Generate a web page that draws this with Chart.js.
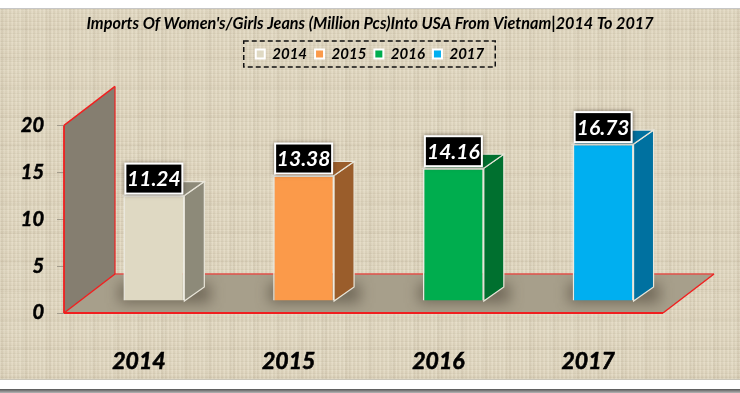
<!DOCTYPE html>
<html>
<head>
<meta charset="utf-8">
<script src="https://cdn.jsdelivr.net/npm/chart.js@4"></script>
<style>
  html, body { margin: 0; padding: 0; background: #fff; overflow: hidden; }
  #page { position: relative; width: 740px; height: 393px; }
  #topline { position: absolute; left: 0; top: 8px; width: 740px; height: 1px; background: #c6c6c6; }
  #linen {
    position: absolute; left: 0; top: 9px; width: 740px; height: 370px;
    border-bottom: 1px solid #c9c5b8;
    background-color: #ddd3bc;
    background-image:
      repeating-linear-gradient(90deg, rgba(255,250,235,.14) 0 1px, rgba(120,105,80,.05) 1px 3px, rgba(255,250,235,.04) 3px 4px),
      repeating-linear-gradient(0deg, rgba(255,250,235,.13) 0 1px, rgba(120,105,80,.05) 1px 2px, rgba(255,250,235,.03) 2px 4px),
      repeating-linear-gradient(90deg, rgba(110,95,70,.04) 0 5px, rgba(0,0,0,0) 5px 17px, rgba(255,255,240,.04) 17px 23px),
      repeating-linear-gradient(0deg, rgba(110,95,70,.04) 0 3px, rgba(0,0,0,0) 3px 13px, rgba(255,255,240,.04) 13px 29px);
  }
  #bottomline { position: absolute; left: 0; top: 389px; width: 740px; height: 4px; background: linear-gradient(#555, #b5b5b5); }
  canvas { position: absolute; left: 0; top: 0; }
</style>
</head>
<body>
<div id="page">
  <div id="topline"></div>
  <div id="linen"></div>
  <div id="bottomline"></div>
  <canvas id="chart" width="740" height="393"></canvas>
</div>
<script>
const categories = ['2014', '2015', '2016', '2017'];
const values = [11.24, 13.38, 14.16, 16.73];
const yTicks = [0, 5, 10, 15, 20];
const frontColors = ['#dfd9c3', '#fb9a4a', '#00ad4e', '#00aff0'];
const sideColors = ['#8d8a79', '#9a5d2b', '#00702f', '#0071a0'];
const titleText = "Imports Of Women's/Girls Jeans (Million Pcs)Into USA From Vietnam|2014 To 2017";

const FONT = 'Lato, "Open Sans", sans-serif';
// 3d look: walls go back by this much, bars sit part of the way in
const WALL_DX = 51, WALL_DY = -39;
const BAR_DX = 15, BAR_DY = -12;
const SIDE_DX = 20, SIDE_DY = -14;
const RED = '#f01f1f';

function poly(ctx, pts) {
  ctx.beginPath();
  pts.forEach((p, i) => (i ? ctx.lineTo(p[0], p[1]) : ctx.moveTo(p[0], p[1])));
  ctx.closePath();
}

function line(ctx, x1, y1, x2, y2, color, w) {
  ctx.strokeStyle = color;
  ctx.lineWidth = w;
  ctx.beginPath();
  ctx.moveTo(x1, y1);
  ctx.lineTo(x2, y2);
  ctx.stroke();
}

const room3d = {
  id: 'room3d',
  beforeLayout(chart) {
    // room between the legend and the plot
    const legend = chart.legend;
    if (!legend.patched) {
      legend.patched = true;
      const fit = legend.fit;
      legend.fit = function () {
        fit.call(this);
        this.height = 87;
      };
    }
  },
  beforeDatasetsDraw(chart) {
    const { ctx, chartArea: a } = chart;
    const y = chart.scales.y;
    const top = y.getPixelForValue(20), bottom = y.getPixelForValue(0);
    const floor = [[a.left, bottom], [a.right, bottom], [a.right + WALL_DX, bottom + WALL_DY], [a.left + WALL_DX, bottom + WALL_DY]];
    ctx.save();
    // wall
    ctx.fillStyle = '#857e70';
    poly(ctx, [[a.left, bottom], [a.left, top], [a.left + WALL_DX, top + WALL_DY], [a.left + WALL_DX, bottom + WALL_DY]]);
    ctx.fill();
    // floor
    ctx.fillStyle = '#a79f8b';
    poly(ctx, floor);
    ctx.fill();
    // bar shadows on the floor
    const meta = chart.getDatasetMeta(0);
    ctx.save();
    poly(ctx, floor);
    ctx.clip();
    ctx.filter = 'blur(7px)';
    ctx.fillStyle = 'rgba(50,42,32,.45)';
    meta.data.forEach((bar) => {
      ctx.fillRect(bar.x + BAR_DX - bar.width / 2 - 4, bottom + BAR_DY - 18, bar.width + SIDE_DX + 10, 20);
    });
    ctx.restore();
    // red frame
    line(ctx, a.left + WALL_DX, bottom + WALL_DY, a.right + WALL_DX, bottom + WALL_DY, '#e2504a', 1.5);
    line(ctx, a.left, top, a.left + WALL_DX, top + WALL_DY, RED, 1.5);
    line(ctx, a.left + WALL_DX, top + WALL_DY, a.left + WALL_DX, bottom + WALL_DY, RED, 1.2);
    line(ctx, a.left, top, a.left, bottom, RED, 1.8);
    line(ctx, a.left, bottom, a.left + WALL_DX, bottom + WALL_DY, RED, 1.5);
    line(ctx, a.right, bottom, a.right + WALL_DX, bottom + WALL_DY, RED, 1.5);
    line(ctx, a.left, bottom, a.right, bottom, RED, 2);
    ctx.restore();

    // side and top faces, then the bars themselves in the same shifted frame
    ctx.save();
    ctx.translate(BAR_DX, BAR_DY);
    meta.data.forEach((bar, i) => {
      const l = bar.x - bar.width / 2, r = bar.x + bar.width / 2;
      ctx.fillStyle = sideColors[i];
      ctx.strokeStyle = '#e9e6da';
      ctx.lineWidth = 1.2;
      poly(ctx, [[r, bar.y], [r + SIDE_DX, bar.y + SIDE_DY], [r + SIDE_DX, bottom + SIDE_DY], [r, bottom]]);
      ctx.fill();
      ctx.stroke();
      poly(ctx, [[l, bar.y], [l + SIDE_DX, bar.y + SIDE_DY], [r + SIDE_DX, bar.y + SIDE_DY], [r, bar.y]]);
      ctx.fill();
      ctx.stroke();
    });
  },
  afterDatasetsDraw(chart) {
    const { ctx } = chart;
    ctx.restore();
    // value boxes
    chart.getDatasetMeta(0).data.forEach((bar, i) => {
      const cx = bar.x + BAR_DX, by = bar.y + BAR_DY - 1;
      const w = 59, h = 32;
      ctx.save();
      ctx.shadowColor = 'rgba(40,30,20,.55)';
      ctx.shadowBlur = 4;
      ctx.fillStyle = '#fff';
      ctx.fillRect(cx - w / 2, by - h, w, h);
      ctx.restore();
      ctx.fillStyle = '#000';
      ctx.fillRect(cx - w / 2 + 2, by - h + 2, w - 4, h - 4);
      ctx.fillStyle = '#fff';
      ctx.font = 'italic bold 21px ' + FONT;
      ctx.textAlign = 'center';
      ctx.textBaseline = 'middle';
      ctx.fillText(values[i].toFixed(2), cx, by - h / 2 + 1);
    });
  },
  afterDraw(chart) {
    // dashed frame round the legend
    const { ctx } = chart;
    const boxes = chart.legend.legendHitBoxes;
    const first = boxes[0], last = boxes[boxes.length - 1];
    ctx.save();
    ctx.strokeStyle = '#111';
    ctx.lineWidth = 1.5;
    ctx.setLineDash([5, 3]);
    ctx.strokeRect(first.left - 12, 41, last.left + last.width - first.left + 23, 26);
    ctx.restore();
  },
};

new Chart(document.getElementById('chart'), {
  type: 'bar',
  data: {
    labels: categories,
    datasets: [{
      label: 'Imports',
      data: values,
      backgroundColor: frontColors,
      borderColor: '#ecebe2',
      borderWidth: 1.5,
      barPercentage: 61 / 150,
      categoryPercentage: 1,
    }],
  },
  plugins: [room3d],
  options: {
    responsive: false,
    animation: false,
    layout: { padding: 0 },
    plugins: {
      tooltip: { enabled: false },
      title: {
        display: true,
        text: titleText,
        color: '#000',
        font: { family: FONT, size: 16.2, weight: 'bold', style: 'italic' },
        padding: { top: 14, bottom: 5 },
        align: 'center',
        fullSize: true,
      },
      legend: {
        position: 'top',
        fullSize: true,
        labels: {
          boxWidth: 9,
          boxHeight: 9,
          padding: 8,
          color: '#000',
          font: { family: FONT, size: 15, weight: 'bold', style: 'italic' },
          generateLabels: () => categories.map((c, i) => ({
            text: c,
            fillStyle: frontColors[i],
            strokeStyle: '#fff',
            lineWidth: 2,
            index: i,
          })),
        },
      },
    },
    scales: {
      x: {
        grid: { display: false },
        border: { display: false },
        afterFit: (s) => { s.height = 80; },
        ticks: {
          color: '#000',
          padding: 27,
          maxRotation: 0,
          textStrokeColor: '#000',
          textStrokeWidth: 0.6,
          font: { family: FONT, size: 23, weight: 'bold', style: 'italic' },
        },
      },
      y: {
        min: 0,
        max: 20,
        afterFit: (s) => { s.width = 64; },
        afterBuildTicks: (s) => { s.ticks = yTicks.map((v) => ({ value: v })); },
        grid: { drawOnChartArea: false, color: '#a39c8c', tickLength: 7, lineWidth: 1 },
        border: { display: false },
        ticks: {
          color: '#000',
          padding: 13,
          textStrokeColor: '#000',
          textStrokeWidth: 0.5,
          font: { family: FONT, size: 20, weight: 'bold', style: 'italic' },
        },
      },
      // empty axis, only keeps the right margin so the title still centres on the page
      yRight: {
        position: 'right',
        min: 0,
        max: 20,
        afterFit: (s) => { s.width = 77; },
        grid: { display: false },
        border: { display: false },
        ticks: { display: false },
      },
    },
  },
});
</script>
</body>
</html>
